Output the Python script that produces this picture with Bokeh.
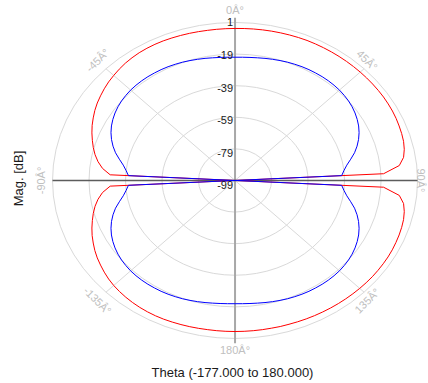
import numpy as np
from bokeh.plotting import figure
from bokeh.models import Range1d, Label, ColumnDataSource
from bokeh.core.properties import value
from bokeh.embed import file_html
from bokeh.resources import INLINE

# ---------------- data ----------------
theta = list(range(-177, 181, 3))  # degrees, 0 at top, clockwise

red_db = [
    # -177 .. -93
    -3.4, -3.4, -3.4, -3.3, -3.2, -3.1, -3.0, -2.9, -2.9, -3.0, -3.2, -3.5, -3.9, -4.4, -5.0,
    -5.8, -6.8, -7.9, -9.0, -10.3, -11.8, -13.3, -15.0, -16.8, -18.6, -20.6, -23.0, -26.0, -30.5,
    # -90
    -99.0,
    # -87 .. -3
    -30.5, -26.0, -23.0, -20.6, -18.6, -16.8, -15.0, -13.3, -11.8, -10.3, -9.0, -7.9, -6.8, -5.8,
    -5.0, -4.2, -3.5, -3.0, -2.6, -2.4, -2.3, -2.3, -2.4, -2.5, -2.6, -2.7, -2.8, -2.8, -2.8,
    # 0
    -2.8,
    # 3 .. 87
    -2.7, -2.6, -2.5, -2.4, -2.3, -2.2, -2.1, -2.0, -2.0, -2.0, -2.0, -2.0, -2.0, -2.0, -2.0,
    -2.0, -2.0, -2.0, -2.0, -2.1, -2.2, -2.4, -2.7, -3.0, -3.4, -4.2, -5.5, -8.5, -17.5,
    # 90
    -99.0,
    # 93 .. 177
    -17.5, -8.5, -5.5, -4.2, -3.4, -3.0, -2.7, -2.5, -2.3, -2.2, -2.2, -2.2, -2.2, -2.3, -2.4,
    -2.5, -2.6, -2.7, -2.8, -2.9, -3.0, -3.1, -3.2, -3.3, -3.3, -3.4, -3.4, -3.4, -3.4,
    # 180
    -3.4,
]

blue_db = [
    # -177 .. -93
    -20.9, -20.7, -20.4, -20.0, -19.6, -19.2, -18.8, -18.5, -18.2, -18.0, -17.9, -17.8, -17.8, -17.9, -18.1,
    -18.5, -19.0, -19.7, -20.6, -21.7, -23.0, -24.6, -26.5, -28.7, -31.2, -34.2, -37.0, -39.0, -40.5,
    # -90
    -99.0,
    # -87 .. -3
    -40.5, -39.0, -37.0, -34.2, -31.2, -28.7, -26.5, -24.6, -23.0, -21.7, -20.6, -19.7, -19.0, -18.5,
    -18.1, -17.9, -17.8, -17.8, -17.9, -18.0, -18.2, -18.5, -18.8, -19.2, -19.6, -20.0, -20.4, -20.7, -20.9,
    # 0
    -21.0,
    # 3 .. 87
    -20.9, -20.7, -20.4, -20.0, -19.6, -19.2, -18.8, -18.5, -18.2, -18.0, -17.9, -17.8, -17.8, -17.9, -18.1,
    -18.5, -19.0, -19.7, -20.6, -21.7, -23.0, -24.6, -26.5, -28.7, -31.2, -34.2, -37.0, -39.0, -40.5,
    # 90
    -99.0,
    # 93 .. 177
    -40.5, -39.0, -37.0, -34.2, -31.2, -28.7, -26.5, -24.6, -23.0, -21.7, -20.6, -19.7, -19.0, -18.5,
    -18.1, -17.9, -17.8, -17.8, -17.9, -18.0, -18.2, -18.5, -18.8, -19.2, -19.6, -20.0, -20.4, -20.7, -20.9,
    # 180
    -21.0,
]

ring_values = [1, -19, -39, -59, -79, -99]
angle_ticks = [0, 45, 90, 135, 180, -135, -90, -45]
angle_labels = ["0Â°", "45Â°", "90Â°", "135Â°", "180Â°", "-135Â°", "-90Â°", "-45Â°"]
x_title = "Theta (-177.000 to 180.000)"
y_title = "Mag. [dB]"

# ---------------- geometry ----------------
r_min = min(ring_values)
r_max = max(ring_values)
R = r_max - r_min  # outer radius in data units

def to_xy(th_deg, db):
    rr = np.clip(np.asarray(db, dtype=float) - r_min, 0, None)
    t = np.radians(np.asarray(th_deg, dtype=float))
    return rr * np.sin(t), rr * np.cos(t)

p = figure(width=428, height=383,
           x_range=Range1d(-128.5, 106.0), y_range=Range1d(-128.5, 113.9),
           output_backend="svg", toolbar_location=None,
           x_axis_location=None, y_axis_location=None,
           min_border=0, outline_line_color=None)
p.grid.grid_line_color = None
p.background_fill_color = "white"
p.border_fill_color = "white"

grid_col = "#d9d9d9"
# rings
for v in ring_values[:-1]:
    rad = v - r_min
    p.ellipse(x=0, y=0, width=2 * rad, height=2 * rad, fill_color=None,
              line_color=grid_col, line_width=1)
# spokes
for a in [45, 135, -135, -45]:
    sx, sy = to_xy([a], [r_max])
    p.segment(x0=0, y0=0, x1=sx[0], y1=sy[0], line_color=grid_col, line_width=1)

# main axes
p.segment(x0=0, y0=-R * 1.03, x1=0, y1=R * 1.03, line_color="#a8a8a8", line_width=2)
p.segment(x0=-R, y0=0, x1=R, y1=0, line_color="#5c5c5c", line_width=1.5)

# curves
rx, ry = to_xy(theta + [theta[0]], red_db + [red_db[0]])
p.line(rx, ry, line_color="#ff0000", line_width=1)
bx, by = to_xy(theta + [theta[0]], blue_db + [blue_db[0]])
p.line(bx, by, line_color="#0000ff", line_width=1)

# radial tick labels
ring_y = [v - r_min for v in ring_values]
ring_off = [5.0 * (1 - (v - r_min) / R) for v in ring_values]
p.text(x=[0] * len(ring_values), y=ring_y, text=[str(v) for v in ring_values],
       x_offset=-2, y_offset=ring_off,
       text_align="right", text_baseline="middle",
       text_font=value("Liberation Sans"), text_font_size="11px", text_color="#1a1a1a")

# angle labels
ax, ay = to_xy(angle_ticks, [r_max] * len(angle_ticks))
d = 12.0
t = np.radians(angle_ticks)
xo = np.minimum(d * np.sin(t), 3.0)
yo = -d * np.cos(t)
rot = []
for a in angle_ticks:
    if abs(a) <= 90:
        rot.append(np.radians(-a))
    else:
        rot.append(np.radians(180 - a))
src = ColumnDataSource(dict(x=ax, y=ay, text=angle_labels, xo=xo, yo=yo, rot=rot))
p.text(x="x", y="y", text="text", x_offset="xo", y_offset="yo", angle="rot", source=src,
       text_align="center", text_baseline="middle",
       text_font=value("Liberation Sans"), text_font_size="11px", text_color="#c0c0c0")

# titles
p.add_layout(Label(x=232, y=383 - 372, x_units="screen", y_units="screen", text=x_title,
                   text_align="center", text_baseline="middle",
                   text_font="Liberation Sans", text_font_size="13px", text_color="#1a1a1a"))
p.add_layout(Label(x=18, y=383 - 178, x_units="screen", y_units="screen", text=y_title,
                   angle=np.pi / 2, text_align="center", text_baseline="middle",
                   text_font="Liberation Sans", text_font_size="13px", text_color="#1a1a1a"))

open("out.html", "w").write(file_html(p, INLINE))
